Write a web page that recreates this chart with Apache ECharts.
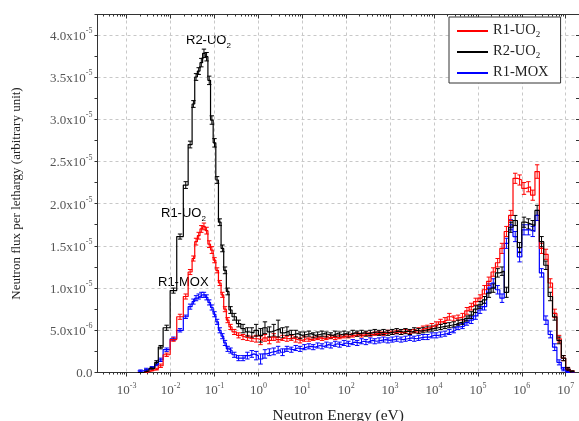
<!DOCTYPE html>
<html>
<head>
<meta charset="utf-8">
<script src="https://cdn.jsdelivr.net/npm/echarts@6/dist/echarts.min.js"></script>
<style>
  html, body { margin: 0; padding: 0; background: #fff; }
  #chart { width: 579px; height: 421px; }
</style>
</head>
<body>
<div id="chart"></div>
<script>
// Group boundaries of the energy mesh, as log10(E / eV)
const EDGE_EXP = [
  -2.75, -2.62, -2.49, -2.36, -2.28, -2.17, -2.01, -1.86, -1.71, -1.60, -1.51,
  -1.45, -1.39, -1.33, -1.27, -1.21, -1.15, -1.09, -1.03, -0.97, -0.91, -0.85, -0.79, -0.73, -0.67,
  -0.6, -0.5, -0.4, -0.3, -0.2, -0.1, 0.0, 0.1, 0.2, 0.3, 0.4, 0.5, 0.6, 0.7, 0.8, 0.9,
  1.0, 1.1, 1.2, 1.3, 1.4, 1.5, 1.6, 1.7, 1.8, 1.9, 2.0, 2.1, 2.2, 2.3, 2.4, 2.5, 2.6, 2.7, 2.8, 2.9,
  3.0, 3.1, 3.2, 3.3, 3.4, 3.5, 3.6, 3.7, 3.8, 3.9, 4.0,
  4.1, 4.2, 4.3, 4.4, 4.5, 4.6, 4.7, 4.8, 4.9, 5.0, 5.1, 5.2, 5.3, 5.4, 5.5, 5.6, 5.7, 5.8, 5.9,
  6.0, 6.1, 6.2, 6.3, 6.4, 6.5, 6.6, 6.7, 6.8, 6.9, 7.0, 7.1, 7.2
];

// Flux per lethargy in each group, in units of 1e-5
const FLUX_R1_UO2 = [
  0, 0.01, 0.03, 0.04, 0.08, 0.21, 0.39, 0.66, 0.90, 1.19,
  1.35, 1.55, 1.62, 1.70, 1.73, 1.68, 1.52, 1.45, 1.33, 1.21, 1.06, 0.92, 0.75, 0.62,
  0.54, 0.48, 0.44, 0.42, 0.41, 0.40, 0.40, 0.38, 0.41, 0.38,
  0.42, 0.39, 0.41, 0.40, 0.41, 0.39, 0.38, 0.40, 0.39, 0.40,
  0.41, 0.40, 0.41, 0.42, 0.41, 0.42, 0.43, 0.43, 0.44, 0.45,
  0.44, 0.46, 0.45, 0.46, 0.47, 0.46, 0.48, 0.47, 0.48, 0.47,
  0.49, 0.48, 0.49, 0.50, 0.52, 0.53, 0.55,
  0.57, 0.60, 0.62, 0.66, 0.64, 0.65, 0.66, 0.73, 0.78, 0.84,
  0.88, 0.98, 1.08, 1.19, 1.30, 1.47, 1.67, 1.86, 2.30, 2.28,
  2.18, 2.20, 2.10, 2.38, 1.47, 1.40, 1.06, 0.70, 0.40, 0.17,
  0.04, 0.01
];
const FLUX_R2_UO2 = [
  0, 0.02, 0.05, 0.12, 0.30, 0.53, 0.97, 1.61, 2.22, 2.70,
  3.18, 3.50, 3.57, 3.67, 3.78, 3.74, 3.46, 2.99, 2.72, 2.28, 1.78, 1.47, 1.21, 0.96,
  0.74, 0.66, 0.58, 0.52, 0.48, 0.47, 0.50, 0.44, 0.53, 0.48,
  0.50, 0.52, 0.47, 0.49, 0.45, 0.46, 0.44, 0.45, 0.46, 0.44,
  0.45, 0.46, 0.45, 0.44, 0.46, 0.45, 0.46, 0.45, 0.47, 0.46,
  0.47, 0.46, 0.47, 0.48, 0.47, 0.48, 0.47, 0.48, 0.49, 0.48,
  0.49, 0.48, 0.50, 0.49, 0.50, 0.51, 0.52,
  0.53, 0.54, 0.55, 0.56, 0.57, 0.59, 0.60, 0.64, 0.68, 0.75,
  0.80, 0.86, 0.94, 1.00, 1.18, 1.20, 0.95, 1.72, 1.80, 1.48,
  1.78, 1.76, 1.74, 1.92, 1.55, 1.27, 0.90, 0.66, 0.38, 0.17,
  0.04, 0.01
];
const FLUX_R1_MOX = [
  0.02, 0.04, 0.06, 0.09, 0.15, 0.27, 0.40, 0.50, 0.66, 0.78,
  0.84, 0.88, 0.90, 0.92, 0.92, 0.89, 0.83, 0.77, 0.69, 0.60, 0.50, 0.43, 0.35, 0.28,
  0.26, 0.21, 0.17, 0.17, 0.20, 0.22, 0.20, 0.16, 0.22, 0.24,
  0.25, 0.27, 0.24, 0.28, 0.27, 0.29, 0.28, 0.30, 0.31, 0.30,
  0.32, 0.31, 0.33, 0.32, 0.34, 0.33, 0.35, 0.34, 0.36, 0.35,
  0.37, 0.36, 0.38, 0.37, 0.38, 0.39, 0.38, 0.39, 0.40, 0.39,
  0.40, 0.41, 0.40, 0.41, 0.42, 0.42, 0.44,
  0.44, 0.45, 0.46, 0.48, 0.50, 0.54, 0.55, 0.59, 0.62, 0.67,
  0.74, 0.78, 1.00, 1.06, 0.98, 0.88, 1.53, 1.75, 1.61, 1.37,
  1.69, 1.69, 1.67, 1.86, 1.18, 0.62, 0.45, 0.30, 0.12, 0.04,
  0.01, 0
];

// One-sigma statistical uncertainty of each group, same units
const ERR_R1_UO2 = [
  0, 0.01, 0.01, 0.01, 0.02, 0.02, 0.02, 0.03, 0.03, 0.03,
  0.03, 0.04, 0.04, 0.04, 0.04, 0.04, 0.04, 0.04, 0.03, 0.03, 0.03, 0.03, 0.03, 0.03,
  0.03, 0.03, 0.03, 0.03, 0.03, 0.03, 0.04, 0.05, 0.04, 0.04,
  0.04, 0.03, 0.03, 0.03, 0.03, 0.03, 0.03, 0.03, 0.02, 0.02,
  0.02, 0.02, 0.02, 0.02, 0.02, 0.02, 0.02, 0.02, 0.02, 0.02,
  0.02, 0.02, 0.02, 0.02, 0.02, 0.02, 0.02, 0.02, 0.02, 0.02,
  0.02, 0.02, 0.02, 0.03, 0.03, 0.03, 0.03,
  0.03, 0.03, 0.03, 0.04, 0.03, 0.03, 0.04, 0.04, 0.04, 0.04,
  0.04, 0.05, 0.05, 0.05, 0.05, 0.06, 0.06, 0.06, 0.06, 0.06,
  0.07, 0.06, 0.06, 0.08, 0.06, 0.06, 0.05, 0.05, 0.04, 0.03,
  0.02, 0.01
];
const ERR_R2_UO2 = [
  0, 0.01, 0.01, 0.02, 0.02, 0.03, 0.03, 0.03, 0.04, 0.04,
  0.04, 0.04, 0.04, 0.05, 0.05, 0.05, 0.05, 0.05, 0.05, 0.04, 0.04, 0.04, 0.04, 0.04,
  0.04, 0.04, 0.04, 0.05, 0.05, 0.06, 0.07, 0.08, 0.07, 0.06,
  0.07, 0.10, 0.06, 0.05, 0.05, 0.04, 0.04, 0.03, 0.03, 0.03,
  0.03, 0.03, 0.03, 0.03, 0.03, 0.03, 0.03, 0.03, 0.03, 0.03,
  0.03, 0.03, 0.03, 0.03, 0.03, 0.03, 0.03, 0.03, 0.03, 0.03,
  0.03, 0.03, 0.03, 0.03, 0.03, 0.03, 0.03,
  0.03, 0.03, 0.03, 0.03, 0.03, 0.03, 0.03, 0.03, 0.04, 0.04,
  0.04, 0.04, 0.05, 0.05, 0.05, 0.05, 0.06, 0.06, 0.06, 0.06,
  0.06, 0.06, 0.06, 0.06, 0.06, 0.05, 0.05, 0.04, 0.04, 0.03,
  0.02, 0.01
];
const ERR_R1_MOX = [
  0.01, 0.01, 0.01, 0.01, 0.02, 0.02, 0.02, 0.02, 0.02, 0.03,
  0.03, 0.03, 0.03, 0.03, 0.03, 0.03, 0.03, 0.03, 0.03, 0.03, 0.03, 0.03, 0.03, 0.03,
  0.03, 0.03, 0.03, 0.03, 0.04, 0.04, 0.05, 0.06, 0.05, 0.04,
  0.04, 0.04, 0.04, 0.03, 0.03, 0.03, 0.03, 0.03, 0.03, 0.03,
  0.03, 0.03, 0.03, 0.03, 0.03, 0.03, 0.03, 0.03, 0.03, 0.03,
  0.03, 0.03, 0.03, 0.03, 0.03, 0.03, 0.03, 0.03, 0.03, 0.03,
  0.03, 0.03, 0.03, 0.03, 0.03, 0.03, 0.03,
  0.03, 0.03, 0.03, 0.03, 0.03, 0.03, 0.03, 0.03, 0.04, 0.04,
  0.04, 0.04, 0.05, 0.05, 0.05, 0.05, 0.06, 0.06, 0.06, 0.06,
  0.06, 0.06, 0.06, 0.06, 0.05, 0.05, 0.04, 0.04, 0.03, 0.02,
  0.01, 0
];

const FLUX_UNIT = 1e-5;
const X_TICK_EXP = [-3, -2, -1, 0, 1, 2, 3, 4, 5, 6, 7];
const X_MIN = 2.163e-4;
const X_MAX = 2.01e7;
const Y_MAX = 4.24e-5;
const Y_STEP = 5e-6;

const SERIES_DEFS = [
  { name: 'R1-MOX', flux: FLUX_R1_MOX, err: ERR_R1_MOX, color: '#0000ff' },
  { name: 'R1-UO2', flux: FLUX_R1_UO2, err: ERR_R1_UO2, color: '#ff0000' },
  { name: 'R2-UO2', flux: FLUX_R2_UO2, err: ERR_R2_UO2, color: '#000000' }
];

const edgeE = EDGE_EXP.map(e => Math.pow(10, e));
const majorTicks = X_TICK_EXP.map(e => Math.pow(10, e));
const minorTicks = [];
for (let d = -4; d <= 7; d++) {
  for (let k = 2; k <= 9; k++) {
    const v = k * Math.pow(10, d);
    if (v > X_MIN && v < X_MAX) minorTicks.push(v);
  }
}

// Histogram outline: one point per group start, plus the closing edge
function stepPoints(flux) {
  const pts = flux.map((v, i) => [edgeE[i], v * FLUX_UNIT]);
  pts.push([edgeE[edgeE.length - 1], flux[flux.length - 1] * FLUX_UNIT]);
  return pts;
}
function errorPoints(flux, err) {
  const out = [];
  flux.forEach((v, i) => {
    if (v <= 0) return;
    const xc = Math.pow(10, (EDGE_EXP[i] + EDGE_EXP[i + 1]) / 2);
    out.push([xc, (v - err[i]) * FLUX_UNIT, (v + err[i]) * FLUX_UNIT]);
  });
  return out;
}
function errorRenderer(color) {
  return function (params, api) {
    const lo = api.coord([api.value(0), api.value(1)]);
    const hi = api.coord([api.value(0), api.value(2)]);
    const w = 2.2;
    const st = { stroke: color, lineWidth: 1 };
    return {
      type: 'group',
      children: [
        { type: 'line', shape: { x1: lo[0], y1: lo[1], x2: hi[0], y2: hi[1] }, style: st },
        { type: 'line', shape: { x1: lo[0] - w, y1: lo[1], x2: lo[0] + w, y2: lo[1] }, style: st },
        { type: 'line', shape: { x1: hi[0] - w, y1: hi[1], x2: hi[0] + w, y2: hi[1] }, style: st }
      ]
    };
  };
}

const series = [];
SERIES_DEFS.forEach(def => {
  series.push({
    name: def.name,
    type: 'line',
    step: 'end',
    data: stepPoints(def.flux),
    showSymbol: false,
    symbol: 'none',
    lineStyle: { color: def.color, width: 1.2 },
    itemStyle: { color: def.color },
    animation: false
  });
  series.push({
    name: def.name,
    type: 'custom',
    data: errorPoints(def.flux, def.err),
    encode: { x: 0, y: [1, 2] },
    renderItem: errorRenderer(def.color),
    itemStyle: { color: def.color },
    animation: false
  });
});

const SERIF = '"Liberation Serif", "Times New Roman", serif';
const SANS = '"Liberation Sans", Arial, sans-serif';
const tickColor = '#555';
const axisColor = '#333';

function powLabel(v) {
  const e = Math.round(Math.log10(v));
  return '{b|10}{s|' + e + '}';
}
function yLabel(v) {
  if (v === 0) return '{b|0.0}';
  const e = Math.floor(Math.log10(v) + 1e-9);
  const m = v / Math.pow(10, e);
  return '{b|' + m.toFixed(1) + 'x10}{s|' + e + '}';
}
const tickRich = {
  b: { fontFamily: SERIF, fontSize: 13, color: tickColor, lineHeight: 16, verticalAlign: 'bottom' },
  s: { fontFamily: SERIF, fontSize: 8, color: tickColor, lineHeight: 16, verticalAlign: 'top', padding: [0, 0, 6, 0] }
};
const subRich = (color, family, size) => ({
  a: { fontFamily: family, fontSize: size, color: color, lineHeight: 16, verticalAlign: 'top' },
  s: { fontFamily: family, fontSize: Math.round(size * 0.62), color: color, lineHeight: 16, verticalAlign: 'bottom', padding: [6, 0, 0, 0] }
});
function subName(name) {
  return name.endsWith('O2') ? '{a|' + name.slice(0, -1) + '}{s|2}' : '{a|' + name + '}';
}

const logAxisBase = { type: 'log', min: X_MIN, max: X_MAX, logBase: 10 };

const option = {
  animation: false,
  backgroundColor: '#fff',
  grid: { left: 97.5, top: 14.5, right: 0, bottom: 48.5, containLabel: false, outerBoundsMode: 'none' },
  legend: {
    data: ['R1-UO2', 'R2-UO2', 'R1-MOX'],
    orient: 'vertical',
    left: 449,
    top: 17,
    padding: [6, 12, 3, 8],
    itemGap: 5,
    itemWidth: 31,
    itemHeight: 2,
    icon: 'rect',
    borderColor: '#333',
    borderWidth: 1,
    backgroundColor: '#fff',
    formatter: subName,
    textStyle: { rich: subRich('#222', SERIF, 14.5), padding: [0, 0, 0, 0] }
  },
  xAxis: [
    Object.assign({}, logAxisBase, {
      position: 'bottom',
      name: 'Neutron Energy (eV)',
      nameLocation: 'middle',
      nameGap: 35,
      nameTextStyle: { fontFamily: SERIF, fontSize: 15.5, color: '#222' },
      axisLine: { show: true, lineStyle: { color: axisColor, width: 1 } },
      axisTick: { show: true, customValues: majorTicks, length: 4, lineStyle: { color: axisColor } },
      axisLabel: { customValues: majorTicks, formatter: powLabel, rich: tickRich, margin: 9 },
      splitLine: { show: true, lineStyle: { color: '#c8c8c8', type: [3, 3], width: 1 } },
      minorTick: { show: false },
      minorSplitLine: { show: false }
    }),
    Object.assign({}, logAxisBase, {
      position: 'bottom',
      axisLine: { show: false },
      axisTick: { show: true, customValues: minorTicks, length: 2, lineStyle: { color: axisColor } },
      axisLabel: { show: false },
      splitLine: { show: false }
    }),
    Object.assign({}, logAxisBase, {
      position: 'top',
      axisLine: { show: true, lineStyle: { color: axisColor, width: 1 } },
      axisTick: { show: true, inside: true, customValues: majorTicks, length: 4, lineStyle: { color: axisColor } },
      axisLabel: { show: false },
      splitLine: { show: false }
    }),
    Object.assign({}, logAxisBase, {
      position: 'top',
      axisLine: { show: false },
      axisTick: { show: true, inside: true, customValues: minorTicks, length: 2, lineStyle: { color: axisColor } },
      axisLabel: { show: false },
      splitLine: { show: false }
    })
  ],
  yAxis: [
    {
      type: 'value',
      position: 'left',
      min: 0,
      max: Y_MAX,
      interval: Y_STEP,
      name: 'Neutron flux per lethargy (arbitrary unit)',
      nameLocation: 'middle',
      nameGap: 74,
      nameRotate: 90,
      nameTextStyle: { fontFamily: SERIF, fontSize: 13, color: '#222' },
      axisLine: { show: true, lineStyle: { color: axisColor, width: 1 } },
      axisTick: { show: true, length: 3, lineStyle: { color: axisColor } },
      minorTick: { show: true, splitNumber: 2, length: 3, lineStyle: { color: axisColor } },
      axisLabel: { formatter: yLabel, rich: tickRich, margin: 5, showMaxLabel: false },
      splitLine: { show: true, lineStyle: { color: '#c8c8c8', type: [3, 3], width: 1 } }
    },
    {
      type: 'value',
      position: 'right',
      min: 0,
      max: Y_MAX,
      interval: Y_STEP,
      axisLine: { show: true, lineStyle: { color: axisColor, width: 1 } },
      axisTick: { show: true, inside: true, length: 3, lineStyle: { color: axisColor } },
      minorTick: { show: true, splitNumber: 2, length: 3, lineStyle: { color: axisColor } },
      axisLabel: { show: false },
      splitLine: { show: false }
    }
  ],
  graphic: [
    { type: 'text', left: 186, top: 34, style: { text: subName('R2-UO2'), rich: subRich('#222', SANS, 13) } },
    { type: 'text', left: 161, top: 207, style: { text: subName('R1-UO2'), rich: subRich('#ff0000', SANS, 13) } },
    { type: 'text', left: 158, top: 276, style: { text: subName('R1-MOX'), rich: subRich('#0000ff', SANS, 13) } }
  ],
  series: series
};

const chart = echarts.init(document.getElementById('chart'), null, { renderer: 'canvas' });
chart.setOption(option);
</script>
</body>
</html>
